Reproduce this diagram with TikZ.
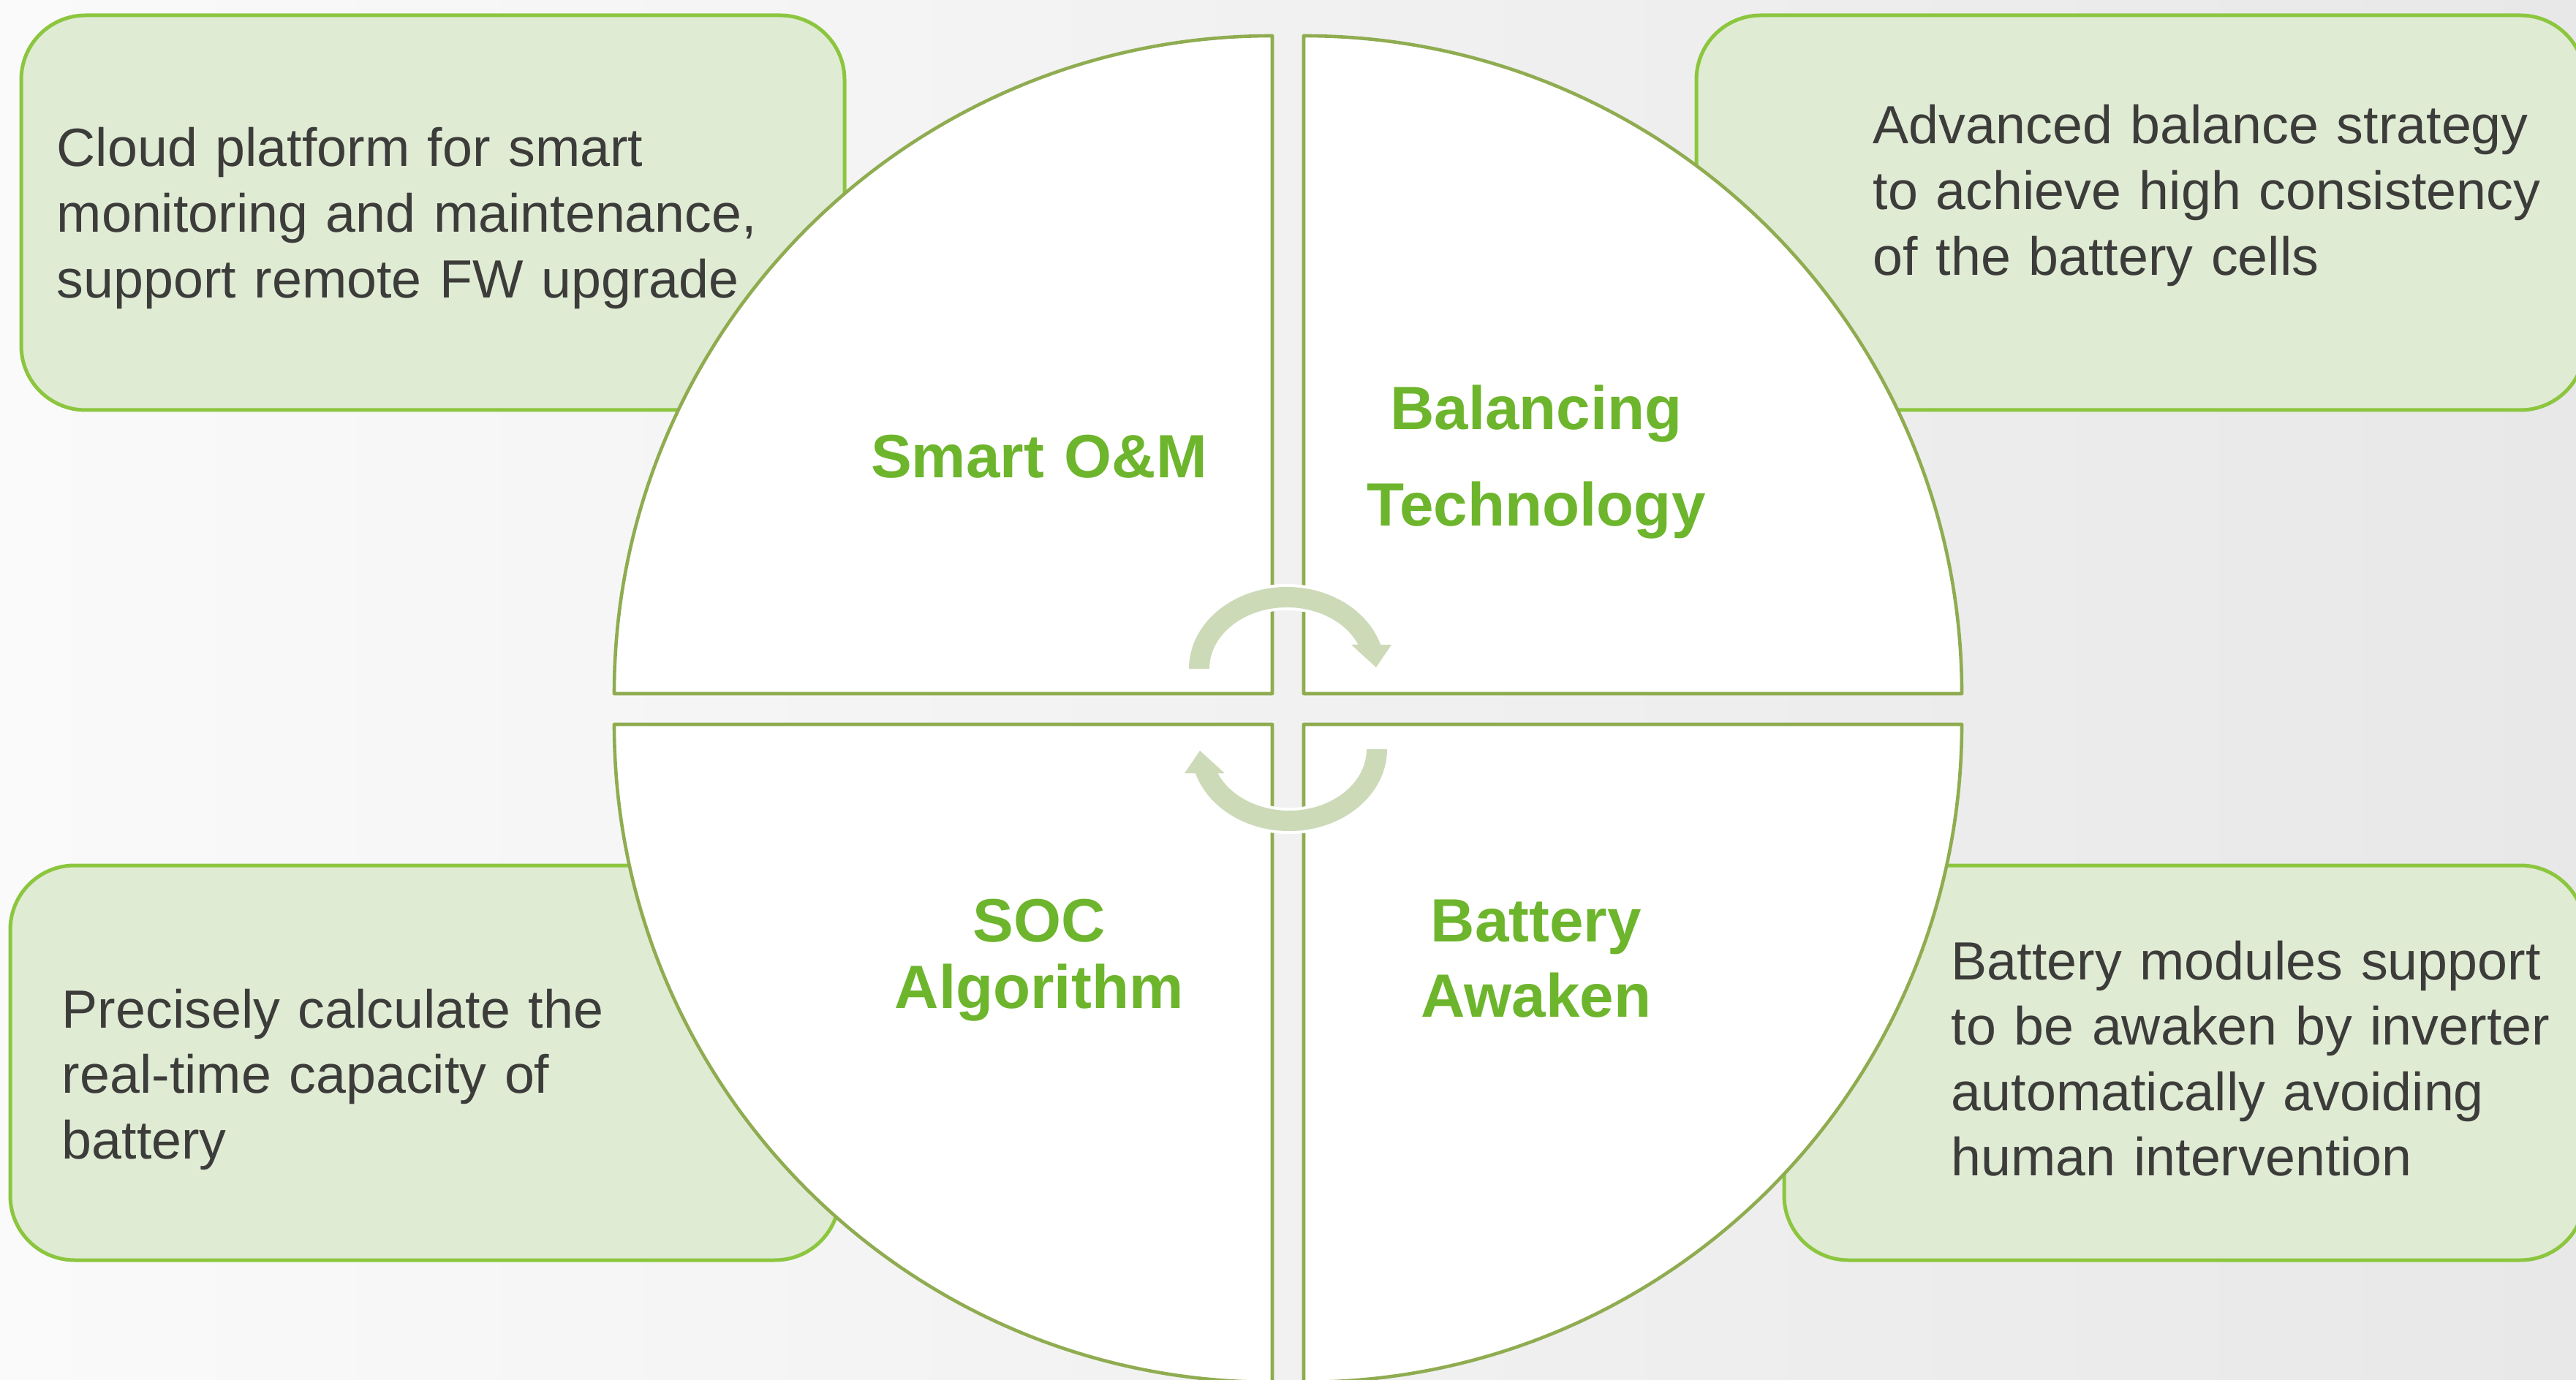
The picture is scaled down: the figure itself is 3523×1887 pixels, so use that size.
\documentclass[tikz,border=0pt]{standalone}
\usepackage{fontspec}
\setmainfont{Liberation Sans}
\definecolor{bgL}{HTML}{FAFAFA}
\definecolor{bgR}{HTML}{E8E8E8}
\definecolor{boxfill}{HTML}{E0EBD4}
\definecolor{boxline}{HTML}{8CC63F}
\definecolor{ringline}{HTML}{8FAC50}
\definecolor{arrowfill}{HTML}{CCDAB8}
\definecolor{titlegreen}{HTML}{6DB52C}
\definecolor{bodytext}{HTML}{3C3C3A}
\begin{document}
\begin{tikzpicture}[x=0.25pt,y=0.25pt,
  infobox/.style={fill=boxfill, draw=boxline, line width=1.25pt, rounded corners=22pt},
  quad/.style={fill=white, draw=ringline, line width=1.15pt, line join=round},
  cyclearrow/.style={fill=arrowfill, preaction={draw=white, line width=2pt, line join=round}},
  bodytxt/.style={inner sep=0pt, anchor=base west, align=left, text width=280pt,
    text=bodytext, font=\fontsize{18.4pt}{22.4pt}\selectfont},
  titletxt/.style={inner sep=0pt, anchor=base, align=center, text width=160pt,
    text=titlegreen}]
\useasboundingbox (0,0) rectangle (3523,1887);
\shade[left color=bgL, right color=bgR] (0,0) rectangle (3523,1887);

% info boxes
\path[infobox] (29,1326) rectangle (1155,1866);
\path[infobox] (2320,1326) rectangle (3535,1866);
\path[infobox] (14,163) rectangle (1148,703);
\path[infobox] (2440,163) rectangle (3535,703);

% body texts
\node[bodytxt] (tlText) at (77,1659) {Cloud platform for smart\\monitoring and maintenance,\\support remote FW upgrade};
\node[bodytxt] (trText) at (2561,1690) {Advanced balance strategy\\to achieve high consistency\\of the battery cells};
\node[bodytxt] (blText) at (84,481) {Precisely calculate the\\real-time capacity of\\battery};
\node[bodytxt] (brText) at (2668,547) {Battery modules support\\to be awaken by inverter\\automatically avoiding\\human intervention};

% quadrants
\path[quad] (1740,938) -- (840,938) arc[start angle=180, end angle=90, radius=900] -- cycle;
\path[quad] (1783,938) -- (1783,1838) arc[start angle=90, end angle=0, radius=900] -- cycle;
\path[quad] (1740,896) -- (840,896) arc[start angle=180, end angle=270, radius=900] -- cycle;
\path[quad] (1783,896) -- (2683,896) arc[start angle=0, end angle=-90, radius=900] -- cycle;

% titles
\node[titletxt, font=\bfseries\fontsize{20.9pt}{25pt}\selectfont] (omTitle) at (1421,1233) {Smart O\&M};
\node[titletxt, font=\bfseries\fontsize{20.9pt}{33pt}\selectfont] (balTitle) at (2101,1299) {Balancing\\Technology};
\node[titletxt, font=\bfseries\fontsize{20.9pt}{22.75pt}\selectfont] (socTitle) at (1421,599) {SOC\\Algorithm};
\node[titletxt, font=\bfseries\fontsize{20.9pt}{25.75pt}\selectfont] (awakeTitle) at (2101,599) {Battery\\Awaken};

% cycle arrows
\path[cyclearrow] (1626,972) arc[start angle=180, end angle=17.1, x radius=134, y radius=112]
  -- (1903,1005) -- (1882,974) -- (1848,1005) -- (1857.5,1005)
  arc[start angle=23.1, end angle=180, x radius=106, y radius=84] -- cycle;
\path[cyclearrow, rotate around={180:(1761.5,917)}] (1626,972) arc[start angle=180, end angle=17.1, x radius=134, y radius=112]
  -- (1903,1005) -- (1882,974) -- (1848,1005) -- (1857.5,1005)
  arc[start angle=23.1, end angle=180, x radius=106, y radius=84] -- cycle;
\end{tikzpicture}
\end{document}
